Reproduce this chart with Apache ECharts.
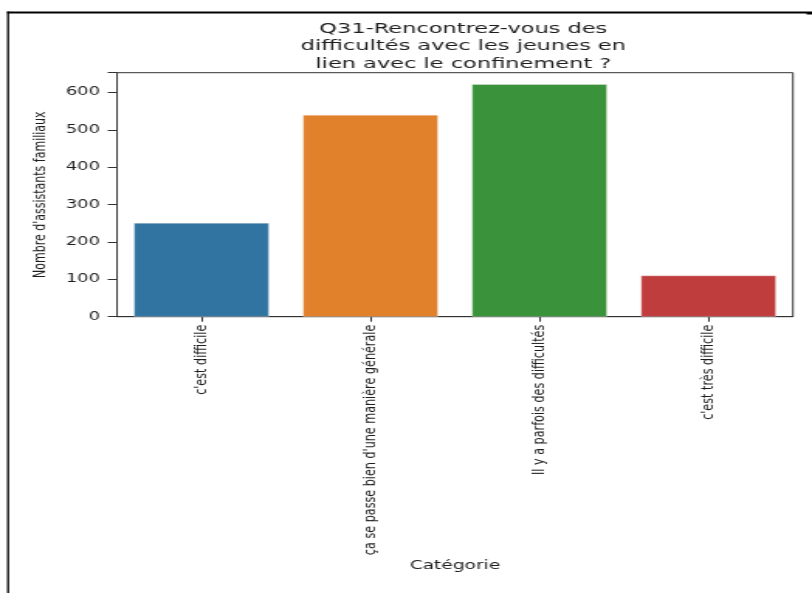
<!DOCTYPE html>
<html>
<head>
<meta charset="utf-8">
<script src="https://cdn.jsdelivr.net/npm/echarts@6/dist/echarts.min.js"></script>
<style>
  html, body { margin: 0; padding: 0; background: #fff; overflow: hidden; width: 812px; height: 593px; }
  #chart { width: 524px; height: 593px; transform: scaleX(1.5496); transform-origin: 0 0; }
</style>
</head>
<body>
<div id="chart"></div>
<script>
const categories = ["c'est difficile", "ça se passe bien d'une manière générale", "Il y a parfois des difficultés", "c'est très difficile"];
const counts = [251, 540, 622, 110];
const barColors = ['#3274a1', '#e1812c', '#3a923a', '#c03d3e'];
const yTicks = [0, 100, 200, 300, 400, 500, 600];
const titleText = 'Q31-Rencontrez-vous des\ndifficultés avec les jeunes en\nlien avec le confinement ?';
const yName = "Nombre d'assistants familiaux";
const xName = 'Catégorie';

const chart = echarts.init(document.getElementById('chart'), null, { renderer: 'canvas' });
const font = 'DejaVu Sans';
const textColor = '#1e1e1e';
const axisColor = '#333333';

chart.setOption({
  animation: false,
  backgroundColor: '#ffffff',
  textStyle: { fontFamily: font },
  title: {
    text: titleText,
    left: 294,
    top: 15,
    textAlign: 'center',
    textStyle: { fontFamily: font, fontSize: 14.5, fontWeight: 'normal', color: textColor, lineHeight: 17.5 }
  },
  grid: {
    left: 75.5, right: 12.3, top: 72.7, bottom: 276.3,
    show: true, borderColor: axisColor, borderWidth: 1, backgroundColor: 'transparent'
  },
  xAxis: {
    type: 'category',
    data: categories,
    name: xName,
    nameLocation: 'middle',
    nameGap: 243,
    nameTextStyle: { fontFamily: font, fontSize: 12, color: textColor },
    axisLine: { show: true, lineStyle: { color: axisColor, width: 1 } },
    axisTick: { show: true, alignWithLabel: true, length: 5, lineStyle: { color: axisColor } },
    axisLabel: { rotate: 90, fontFamily: font, fontSize: 11.2, color: textColor, margin: 8, interval: 0 },
    splitLine: { show: false }
  },
  yAxis: {
    type: 'value',
    min: 0,
    max: 653,
    interval: 100,
    name: yName,
    nameLocation: 'middle',
    nameGap: 42,
    nameRotate: 90,
    nameTextStyle: { fontFamily: font, fontSize: 11, color: textColor },
    axisLine: { show: true, lineStyle: { color: axisColor, width: 1 } },
    axisTick: { show: true, length: 6, lineStyle: { color: axisColor } },
    axisLabel: {
      fontFamily: font, fontSize: 11.5, color: textColor, margin: 11,
      formatter: function (v) { return yTicks.indexOf(v) >= 0 ? String(v) : ''; }
    },
    splitLine: { show: false }
  },
  series: [{
    type: 'bar',
    data: counts.map(function (v, i) { return { value: v, itemStyle: { color: barColors[i] } }; }),
    barCategoryGap: '20%',
    itemStyle: { borderColor: 'rgba(255,255,255,0.6)', borderWidth: 0.5 }
  }],
  graphic: [
    { type: 'line', shape: { x1: 4.6, y1: 12.5, x2: 524, y2: 12.5 }, style: { stroke: '#000', lineWidth: 2 }, z: 100 },
    { type: 'rect', shape: { x: 520.5, y: 12, width: 3.5, height: 2.5 }, style: { fill: '#000' }, z: 100 },
    { type: 'line', shape: { x1: 5.2, y1: 11.5, x2: 5.2, y2: 593 }, style: { stroke: '#000', lineWidth: 1.3 }, z: 100 }
  ]
});
</script>
</body>
</html>
